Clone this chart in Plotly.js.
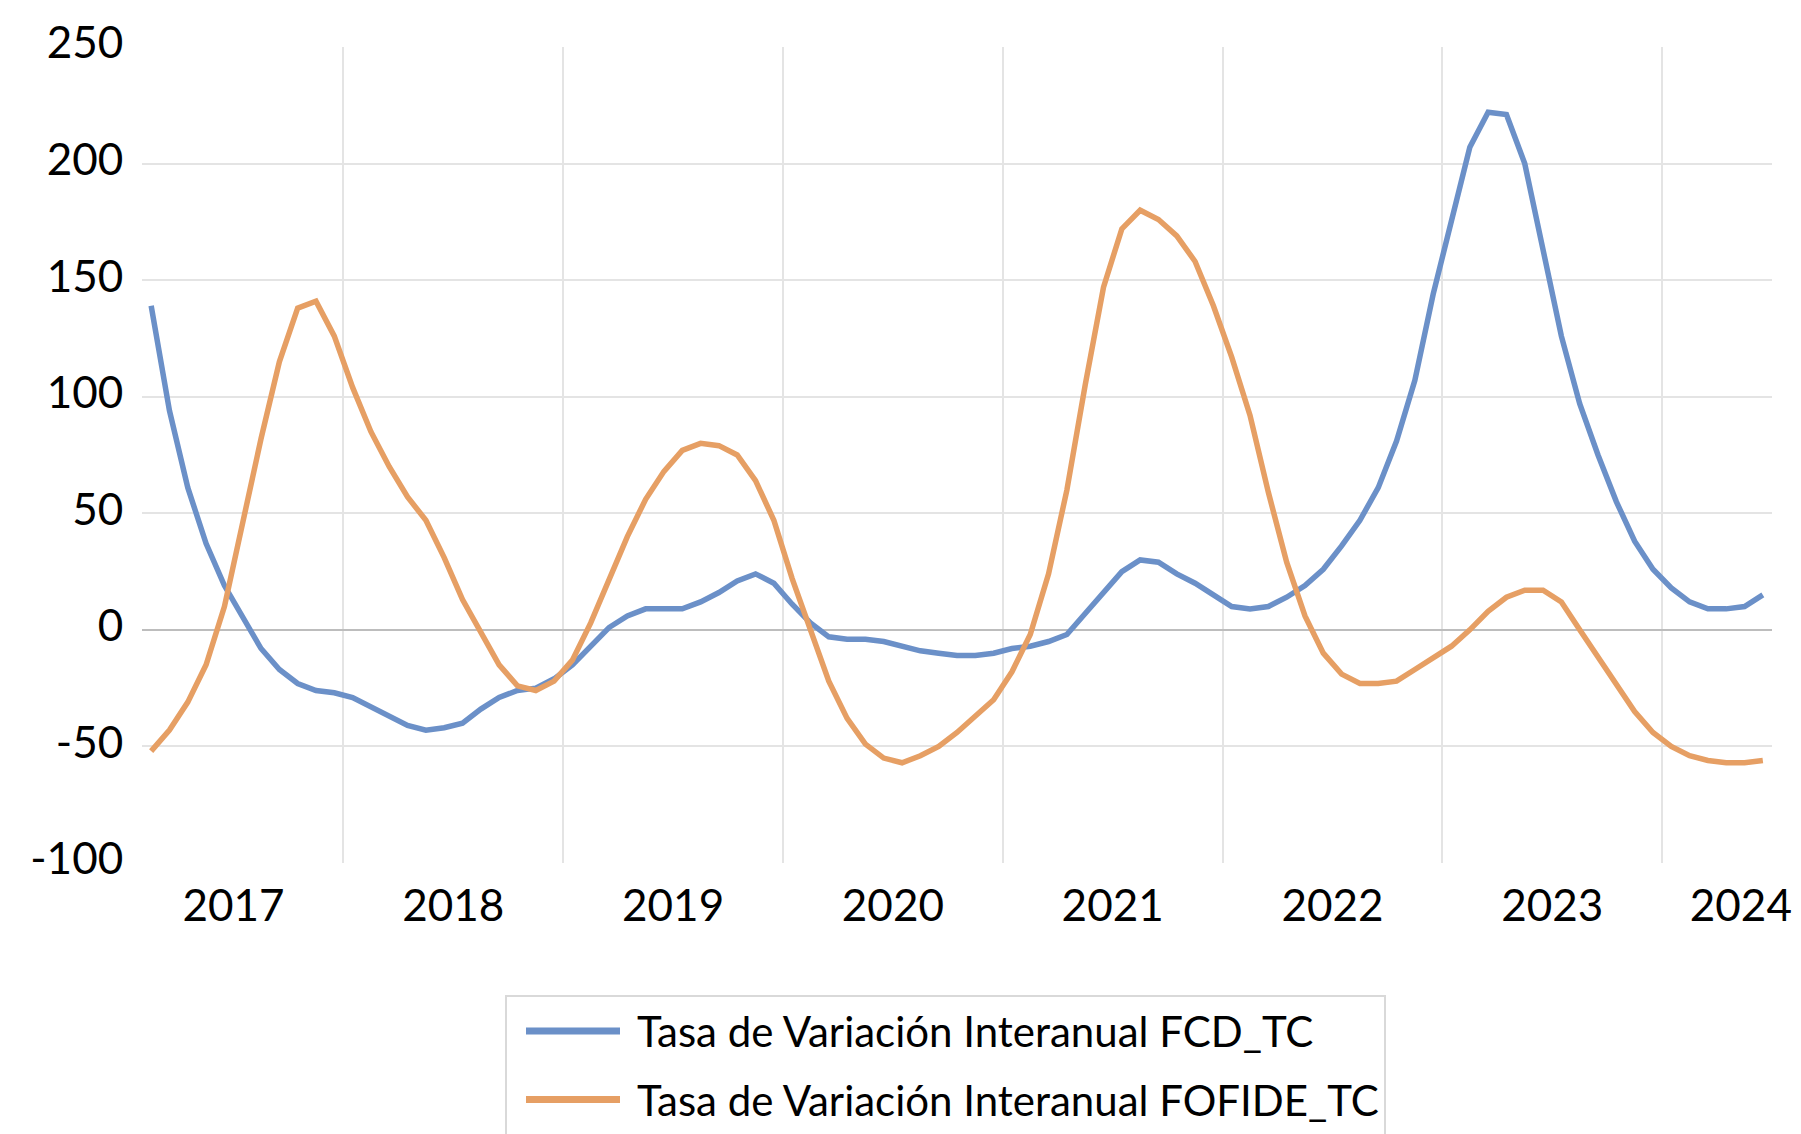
<!DOCTYPE html>
<html>
<head>
<meta charset="utf-8">
<script src="https://cdn.plot.ly/plotly-3.0.1.min.js"></script>
<style>
  body { margin: 0; background: #fff; }
  #chart { width: 1801px; height: 1134px; }
</style>
</head>
<body>
<div id="chart"></div>
<script>
// monthly series, Feb 2017 .. Jun 2024 (89 months)

const fcd_tc = [
  139, 94, 61, 37, 19, 5, -8, -17, -23, -26,
  -27, -29, -33, -37, -41, -43, -42, -40, -34, -29,
  -26, -25, -21, -15, -7, 1, 6, 9, 9, 9,
  12, 16, 21, 24, 20, 11, 3, -3, -4, -4,
  -5, -7, -9, -10, -11, -11, -10, -8, -7, -5,
  -2, 7, 16, 25, 30, 29, 24, 20, 15, 10,
  9, 10, 14, 19, 26, 36, 47, 61, 81, 107,
  144, 176, 207, 222, 221, 200, 163, 126, 97, 75,
  55, 38, 26, 18, 12, 9, 9, 10, 15
];

const fofide_tc = [
  -52, -43, -31, -15, 10, 46, 82, 115, 138, 141,
  126, 104, 85, 70, 57, 47, 31, 13, -1, -15,
  -24, -26, -22, -13, 3, 22, 40, 56, 68, 77,
  80, 79, 75, 64, 47, 22, 0, -22, -38, -49,
  -55, -57, -54, -50, -44, -37, -30, -18, -2, 24,
  60, 105, 147, 172, 180, 176, 169, 158, 139, 117,
  92, 59, 29, 6, -10, -19, -23, -23, -22, -17,
  -12, -7, 0, 8, 14, 17, 17, 12, 0, -12,
  -24, -35, -44, -50, -54, -56, -57, -57, -56
];

const series_names = ['Tasa de Variación Interanual FCD_TC',
                      'Tasa de Variación Interanual FOFIDE_TC'];

// year labels sit between the year separators
const year_labels = ['2017', '2018', '2019', '2020', '2021', '2022', '2023', '2024'];
const year_label_pos = [4.5, 16.5, 28.5, 40.5, 52.5, 64.5, 76.5, 86.8];
const year_breaks = [10.5, 22.5, 34.5, 46.5, 58.5, 70.5, 82.5];

const y_ticks = [-100, -50, 0, 50, 100, 150, 200, 250];
const y_tick_text = ['-100', '-50', '0', '50', '100', '150', '200', '250'];

// month labels, used for the x values / hover
const months = [];
for (let k = 0; k < fcd_tc.length; k++) {
    const m = 1 + k;               // Feb 2017 is month index 1
    const yy = 2017 + Math.floor(m / 12);
    const mm = (m % 12) + 1;
    months.push(yy + '-' + (mm < 10 ? '0' + mm : '' + mm));
}
const x_idx = months.map((m, i) => i);

const blueColor = 'rgb(107, 144, 200)';
const orangeColor = 'rgb(230, 159, 100)';
const fontFamily = 'Lato, "Open Sans", sans-serif';

const trace_fcd = {x: x_idx,
                   y: fcd_tc,
                   text: months,
                   type: 'scatter',
                   mode: 'lines',
                   line: {color: blueColor, width: 5.5},
                   name: series_names[0],
                   legendgroup: 'a'};
const trace_fofide = {x: x_idx,
                      y: fofide_tc,
                      text: months,
                      type: 'scatter',
                      mode: 'lines',
                      line: {color: orangeColor, width: 5.5},
                      name: series_names[1],
                      legendgroup: 'b'};

const layout = {
    width: 1801,
    height: 1134,
    // autoexpand off: the legend hangs off the bottom edge like the original
    margin: {l: 142, r: 29, t: 47, b: 271, autoexpand: false},
    paper_bgcolor: '#fff',
    plot_bgcolor: '#fff',
    font: {family: fontFamily, color: '#000'},
    showlegend: true,
    xaxis: {range: [-0.5, 88.5],
            tickmode: 'array',
            tickvals: year_label_pos,
            ticktext: year_labels,
            tickangle: 0,
            ticks: 'outside',
            ticklen: 4,
            tickcolor: 'rgba(0,0,0,0)',
            tickfont: {size: 44, family: fontFamily, color: '#000'},
            showgrid: false,
            zeroline: false,
            showline: false,
            automargin: false,
            minor: {tickmode: 'array',
                    tickvals: year_breaks,
                    ticks: '',
                    showgrid: true,
                    gridcolor: '#e4e4e4',
                    gridwidth: 2}
           },
    yaxis: {range: [-100, 250],
            tickmode: 'array',
            tickvals: y_ticks,
            ticktext: y_tick_text,
            ticks: 'outside',
            ticklen: 9,
            tickcolor: 'rgba(0,0,0,0)',
            ticklabelshift: -4,
            tickfont: {size: 44, family: fontFamily, color: '#000'},
            showgrid: true,
            gridcolor: '#e4e4e4',
            gridwidth: 2,
            zeroline: true,
            zerolinecolor: '#bdbdbd',
            zerolinewidth: 2,
            showline: false,
            automargin: false
           },
    legend: {x: 0.2227,
             y: -0.162,
             xanchor: 'left',
             yanchor: 'top',
             orientation: 'v',
             traceorder: 'grouped',
             tracegroupgap: 11,
             itemwidth: 120,
             bgcolor: '#fff',
             bordercolor: '#d9d9d9',
             borderwidth: 2,
             font: {size: 42, family: fontFamily, color: '#000'}
            }
};

const config = {displayModeBar: false, responsive: false};

Plotly.newPlot('chart', [trace_fcd, trace_fofide], layout, config).then(function (gd) {
    // longer legend swatches, like the original
    gd.querySelectorAll('.legendlines path').forEach(function (p) {
        p.setAttribute('d', 'M19,0h94');
        p.style.strokeWidth = '7px';
    });
});
</script>
</body>
</html>
